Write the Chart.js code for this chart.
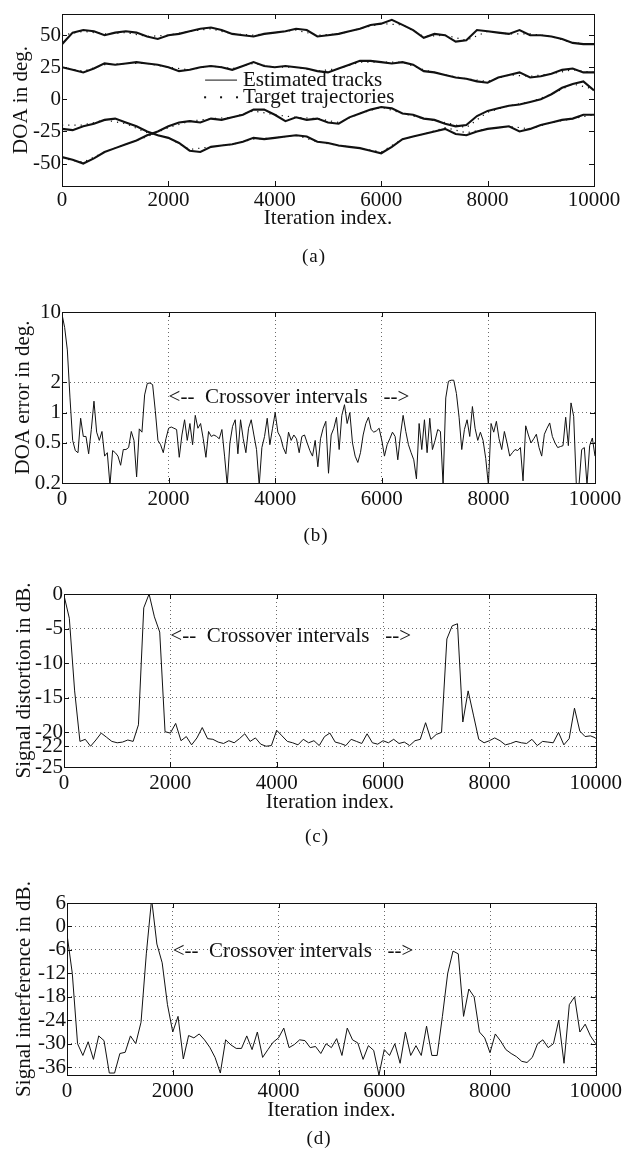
<!DOCTYPE html>
<html>
<head>
<meta charset="utf-8">
<script src="https://cdn.jsdelivr.net/npm/chart.js@4/dist/chart.umd.min.js"></script>
<style>
  html, body { margin: 0; padding: 0; background: #fff; }
  body { width: 626px; height: 1151px; position: relative; overflow: hidden; font-family: "Liberation Serif", serif; }
  canvas { position: absolute; left: 0; }
  .cap { position: absolute; width: 60px; text-align: center; font-size: 19px; line-height: 22px; color: #111; letter-spacing: 1px; }
</style>
</head>
<body>
<canvas id="pa" width="626" height="270" style="top:0px;width:626px;height:270px"></canvas>
<canvas id="pb" width="626" height="290" style="top:270px;width:626px;height:290px"></canvas>
<canvas id="pc" width="626" height="290" style="top:560px;width:626px;height:290px"></canvas>
<canvas id="pd" width="626" height="301" style="top:850px;width:626px;height:301px"></canvas>
<div class="cap" style="left:284px;top:245px">(a)</div>
<div class="cap" style="left:286px;top:524px">(b)</div>
<div class="cap" style="left:287px;top:825px">(c)</div>
<div class="cap" style="left:289px;top:1127px">(d)</div>
<script>
// iteration grids (x categories)
function seq(step, end) {
  var out = []
  for (var v = 0; v <= end; v += step) out.push(v)
  return out
}
var ITER_EST = seq(200, 10000)
var ITER_TGT = seq(400, 10000)
var ITER_ERR = seq(50, 10000)
var ITER_DB = seq(100, 10000)

var X_TICKS = [0, 2000, 4000, 6000, 8000, 10000]

// (a) DOA tracks, deg.
var EST_1 = [43,52,54,53,50,52,53,52,49,47,50,51,53,55,56,54,51,50,49,51,52,53,55,54,49,50,51,53,55,58,59,62,58,54,48,51,50,45,46,54,53,52,51,54,50,50,49,47,44,43,43]
var EST_2 = [25,23,21,24,28,27,28,29,28,27,25,22,23,25,26,25,23,26,29,26,25,26,25,24,22,21,24,27,30,30,29,28,29,27,22,21,19,17,16,14,13,17,19,21,17,18,20,23,24,21,21]
var EST_3 = [-23,-24,-21,-19,-16,-15,-18,-21,-25,-28,-30,-34,-40,-41,-37,-36,-35,-33,-30,-31,-30,-29,-28,-29,-33,-34,-36,-37,-38,-40,-42,-37,-31,-29,-27,-25,-23,-27,-28,-25,-23,-22,-21,-25,-23,-20,-18,-16,-15,-12,-12]
var EST_4 = [-45,-47,-50,-46,-41,-38,-35,-32,-28,-25,-21,-18,-17,-18,-15,-16,-14,-12,-8,-8,-12,-17,-14,-16,-15,-18,-19,-14,-11,-8,-6,-7,-11,-12,-15,-16,-19,-21,-20,-13,-9,-7,-5,-4,-2,0,4,9,12,14,7]
var TGT_1 = [50,53,51,52,49,50,53,55,51,50,52,54,50,51,55,59,58,49,50,46,53,51,51,49,44,43]
var TGT_2 = [25,22,27,28,28,25,23,26,24,28,25,25,22,24,29,29,29,23,19,16,14,19,18,20,23,21]
var TGT_3 = [-20,-20,-16,-19,-26,-30,-39,-37,-35,-31,-30,-28,-33,-36,-38,-41,-31,-27,-22,-26,-23,-21,-23,-18,-15,-12]
var TGT_4 = [-46,-49,-41,-35,-29,-22,-17,-15,-14,-9,-12,-14,-15,-18,-11,-6,-11,-15,-18,-22,-10,-5,-2,4,12,8]
var Y_TICKS_A = [-50, -25, 0, 25, 50]

// (b) DOA error, deg. (log axis)
var DOA_ERR = [9.5,7,4.2,1.4,0.53,0.42,0.4,0.88,0.58,0.58,0.39,0.68,1.3,0.64,0.53,0.65,0.37,0.4,0.19,0.42,
  0.4,0.37,0.3,0.43,0.43,0.45,0.65,0.53,0.23,0.69,0.64,1.5,1.95,1.97,1.9,1.05,0.53,0.48,0.4,0.55,
  0.7,0.72,0.7,0.68,0.36,0.6,0.85,0.53,0.78,0.48,0.94,0.7,0.78,0.55,0.36,0.65,0.58,0.6,0.58,0.55,
  0.68,0.37,0.19,0.5,0.73,0.85,0.39,0.85,0.55,0.4,0.7,0.85,0.6,0.43,0.19,0.45,0.58,0.88,0.48,0.7,
  1.0,0.64,0.57,0.45,0.39,0.64,0.53,0.6,0.55,0.4,0.58,0.6,0.5,0.42,0.37,0.53,0.29,0.55,0.7,0.82,
  0.25,0.6,0.7,0.9,0.43,0.94,1.2,0.78,1.0,0.5,0.37,0.32,0.4,0.6,0.78,0.9,0.68,0.64,0.66,0.7,
  0.53,0.37,0.48,0.55,0.64,0.58,0.34,0.6,0.94,0.65,0.48,0.4,0.34,0.22,0.78,0.43,0.85,0.4,0.88,0.43,
  0.53,0.68,0.65,0.19,1.4,2.05,2.1,2.1,1.55,0.9,0.43,0.68,0.85,0.58,1.15,0.7,0.53,0.64,0.53,0.35,
  0.19,0.78,0.64,0.82,0.55,0.43,0.65,0.5,0.37,0.4,0.43,0.42,0.45,0.21,0.74,0.6,0.5,0.55,0.61,0.45,
  0.37,0.61,0.7,0.79,0.58,0.5,0.45,0.46,0.47,0.9,0.47,1.25,0.92,0.19,0.19,0.43,0.45,0.19,0.47,0.56,
  0.37]
var Y_TICKS_B = [0.2, 0.5, 1, 2, 10]

// (c) signal distortion, dB
var DISTORTION = [-0.2,-3.5,-14,-21.3,-21,-22,-21.1,-20.1,-20.7,-21.3,
  -21.5,-21.4,-21.1,-21.3,-18.9,-2,0,-3.3,-5.5,-19.9,
  -20.1,-18.7,-21.2,-20.6,-21.8,-20.8,-19.3,-20.9,-21,-21.4,
  -21.6,-21.2,-21.5,-20.9,-20.2,-21.3,-20.8,-21.7,-22,-21.9,
  -19.7,-20.5,-21.3,-21.5,-21.8,-21,-21.5,-21.2,-21.9,-20.6,
  -20.1,-21.4,-21.6,-21.9,-21,-21.3,-21.6,-20.2,-21.5,-21.7,
  -21.2,-21.5,-21,-21.6,-21.4,-21.9,-21.2,-21,-18.6,-21,
  -20.3,-20,-6.5,-4.6,-4.3,-18.5,-14,-17.5,-21,-21.5,
  -21.2,-20.8,-21.2,-21.8,-21.6,-21.3,-21.5,-21.6,-21,-21.9,
  -21.3,-21.4,-21.5,-20,-21.8,-20.9,-16.5,-19.8,-20.6,-20.5,
  -20.8]
var Y_TICKS_C = [-25, -22, -20, -15, -10, -5, 0]

// (d) signal interference, dB
var INTERFERENCE = [-2,-12,-30,-33,-29.5,-34,-28,-29.2,-37.5,-37.5,
  -32.5,-32.2,-28,-30,-24.5,-7,7,-4.5,-9.3,-20,
  -27,-23,-33.9,-27.9,-28.5,-27.5,-29,-30.9,-33.5,-37.5,
  -29,-30.3,-31.2,-31.2,-28,-31.5,-27,-33.5,-31.5,-29.6,
  -28.5,-26,-31,-30.2,-29,-29.2,-31,-30.7,-32.5,-30,
  -31,-28.7,-33,-26,-29,-29.8,-34,-30.5,-31.7,-38,
  -31.5,-33,-30,-35,-27,-33,-30.5,-33,-25.5,-33,
  -33,-23,-12,-6.3,-7,-23,-16,-18,-27,-28.5,
  -32.3,-27.5,-29.3,-31.5,-32.5,-33.3,-34.5,-34.8,-33.5,-30,
  -29,-31,-30,-24,-35,-20,-18,-27,-25,-28,
  -30]
var Y_TICKS_D = [-36, -30, -24, -18, -12, -6, 0, 6]

var NOTE = '<--  Crossover intervals   -->'
var INK = '#111'
var FONT = '"Liberation Serif", "Times New Roman", serif'
var TICK_LEN = 5

Chart.defaults.font.family = FONT
Chart.defaults.font.size = 21
Chart.defaults.color = INK
Chart.defaults.animation = false

function pts(xs, ys) {
  return xs.map(function (x, i) { return { x: x, y: ys[i] } })
}

function fixTicks(values) {
  return function (scale) {
    scale.ticks = values.map(function (v) { return { value: v } })
  }
}

// matlab-like box, inward ticks, text notes and legend
var framePlugin = {
  id: 'frame',
  afterDatasetsDraw: function (chart, args, o) {
    var ctx = chart.ctx, a = chart.chartArea
    var xs = chart.scales.x, ys = chart.scales.y
    ctx.save()
    ctx.strokeStyle = INK
    ctx.lineWidth = 1
    ctx.setLineDash([])
    ctx.beginPath()
    xs.ticks.forEach(function (t) {
      var px = Math.round(xs.getPixelForValue(t.value)) + 0.5
      ctx.moveTo(px, a.bottom); ctx.lineTo(px, a.bottom - TICK_LEN)
      ctx.moveTo(px, a.top); ctx.lineTo(px, a.top + TICK_LEN)
    })
    ys.ticks.forEach(function (t) {
      var py = Math.round(ys.getPixelForValue(t.value)) + 0.5
      ctx.moveTo(a.left, py); ctx.lineTo(a.left + TICK_LEN, py)
      ctx.moveTo(a.right, py); ctx.lineTo(a.right - TICK_LEN, py)
    })
    ctx.stroke()
    ctx.strokeRect(Math.round(a.left) + 0.5, Math.round(a.top) + 0.5,
      Math.round(a.right - a.left), Math.round(a.bottom - a.top))

    ctx.fillStyle = INK
    ctx.font = '21px ' + FONT
    ctx.textBaseline = 'middle'
    ctx.textAlign = 'left'
    if (o.note) {
      ctx.fillText(o.note.text, xs.getPixelForValue(o.note.x), ys.getPixelForValue(o.note.y))
    }
    if (o.legend) {
      var L = o.legend
      var x0 = xs.getPixelForValue(L.x0), x1 = xs.getPixelForValue(L.x1)
      var y1 = ys.getPixelForValue(L.y1), y2 = ys.getPixelForValue(L.y2)
      ctx.beginPath()
      ctx.moveTo(x0, y1); ctx.lineTo(x1, y1)
      ctx.stroke()
      for (var k = 0; k < 3; k++) {
        ctx.fillRect(x0 + k * (x1 - x0) / 2 - 1, y2 - 1, 2, 2)
      }
      var tx = xs.getPixelForValue(L.tx)
      ctx.fillText(L.labels[0], tx, y1)
      ctx.fillText(L.labels[1], tx, y2)
    }
    ctx.restore()
  }
}

function makePanel(id, cfg) {
  var c = document.getElementById(id)
  var grid = cfg.grid
  return new Chart(c.getContext('2d'), {
    type: 'line',
    data: { datasets: cfg.datasets },
    plugins: [framePlugin],
    options: {
      responsive: false,
      animation: false,
      events: [],
      layout: { padding: { left: 0, right: 626 - cfg.right, top: cfg.top, bottom: c.height - cfg.bottom - cfg.xH } },
      elements: { point: { radius: 0 }, line: { tension: 0 } },
      plugins: {
        legend: { display: false },
        tooltip: { enabled: false },
        frame: { note: cfg.note, legend: cfg.legend }
      },
      scales: {
        x: {
          type: 'linear', min: 0, max: 10000,
          afterBuildTicks: fixTicks(X_TICKS),
          afterFit: function (s) { s.height = cfg.xH },
          grid: { display: grid, drawTicks: false, color: '#6a6a6a', lineWidth: 1 },
          border: { display: false, dash: [1, 3] },
          ticks: { padding: cfg.xPad, maxRotation: 0, autoSkip: false, callback: function (v) { return String(v) } },
          title: { display: !!cfg.xTitle, text: cfg.xTitle || '', padding: { top: 0, bottom: 0 } }
        },
        y: {
          type: cfg.yType || 'linear', min: cfg.yMin, max: cfg.yMax,
          afterBuildTicks: fixTicks(cfg.yTicks),
          afterFit: function (s) { s.width = cfg.left },
          grid: { display: grid, drawTicks: false, color: '#6a6a6a', lineWidth: 1 },
          border: { display: false, dash: [1, 3] },
          ticks: { padding: 1, autoSkip: false, callback: function (v) { return String(v) } },
          title: { display: true, text: cfg.yTitle, padding: { top: cfg.yTitlePad, bottom: 0 } }
        }
      }
    }
  })
}

function est(ys) {
  return { data: pts(ITER_EST, ys), borderColor: INK, borderWidth: 2.1, clip: 0, order: 1 }
}
function tgt(ys) {
  return { data: pts(ITER_TGT, ys), borderColor: INK, borderWidth: 1.2, borderDash: [1.2, 5], clip: 0, order: 2 }
}
function trace(xs, ys) {
  return { data: pts(xs, ys), borderColor: INK, borderWidth: 1, clip: 0 }
}

makePanel('pa', {
  left: 62, right: 594, top: 14, bottom: 186, xH: 45, xPad: 2,
  grid: false, yMin: -67.5, yMax: 66.5, yTicks: Y_TICKS_A,
  yTitle: 'DOA in deg.', yTitlePad: 9, xTitle: 'Iteration index.',
  datasets: [est(EST_1), est(EST_2), est(EST_3), est(EST_4), tgt(TGT_1), tgt(TGT_2), tgt(TGT_3), tgt(TGT_4)],
  legend: { x0: 2690, x1: 3290, tx: 3400, y1: 15, y2: 1.6, labels: ['Estimated tracks', 'Target trajectories'] }
})

makePanel('pb', {
  left: 62, right: 595, top: 42, bottom: 213, xH: 40, xPad: 4,
  grid: true, yType: 'logarithmic', yMin: 0.2, yMax: 10, yTicks: Y_TICKS_B,
  yTitle: 'DOA error in deg.', yTitlePad: 11,
  datasets: [trace(ITER_ERR, DOA_ERR)],
  note: { text: NOTE, x: 2000, y: 1.43 }
})

makePanel('pc', {
  left: 64, right: 597, top: 34, bottom: 207, xH: 48, xPad: 4,
  grid: true, yMin: -25, yMax: 0, yTicks: Y_TICKS_C,
  yTitle: 'Signal distortion in dB.', yTitlePad: 12, xTitle: 'Iteration index.',
  datasets: [trace(ITER_DB, DISTORTION)],
  note: { text: NOTE, x: 2000, y: -6.2 }
})

makePanel('pd', {
  left: 67, right: 598, top: 53, bottom: 225, xH: 48, xPad: 4,
  grid: true, yMin: -38, yMax: 6, yTicks: Y_TICKS_D,
  yTitle: 'Signal interference in dB.', yTitlePad: 12, xTitle: 'Iteration index.',
  datasets: [trace(ITER_DB, INTERFERENCE)],
  note: { text: NOTE, x: 2000, y: -6.4 }
})
</script>
</body>
</html>
